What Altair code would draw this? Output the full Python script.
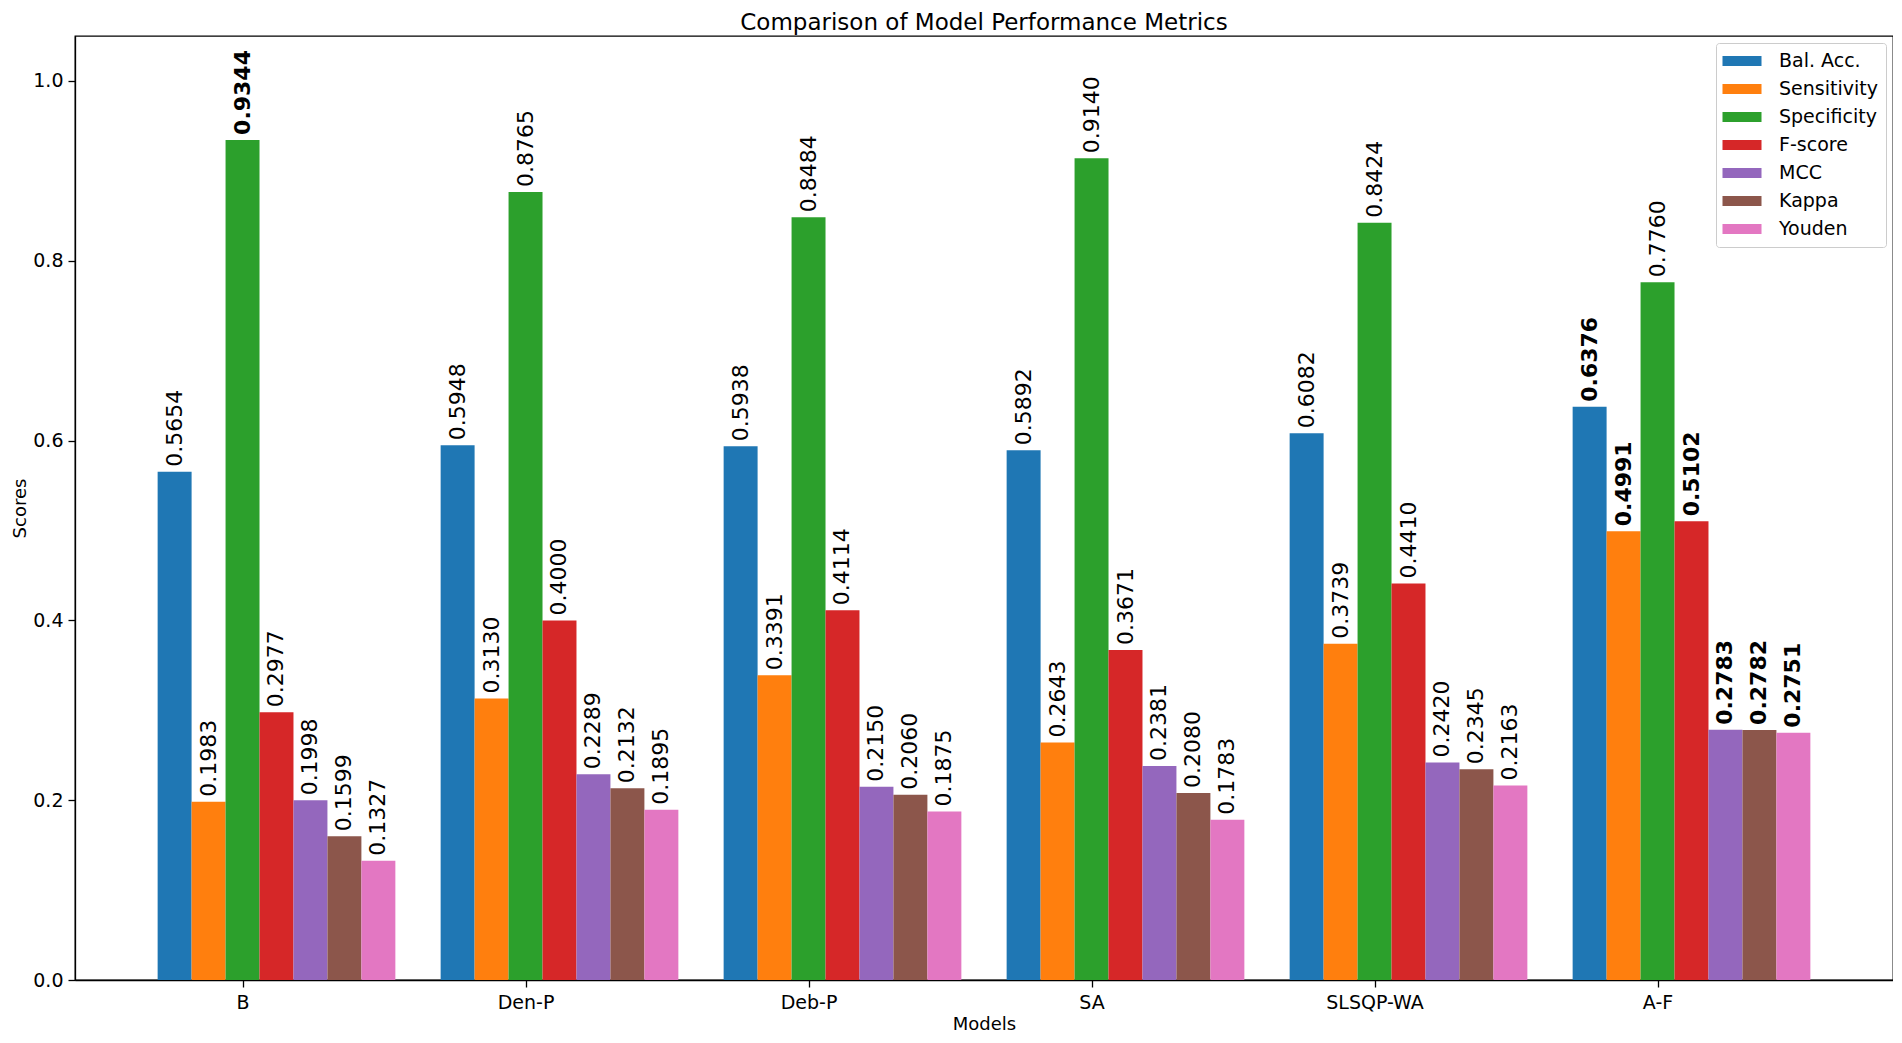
import json
import altair as alt
import pandas as pd

models = ["B", "Den-P", "Deb-P", "SA", "SLSQP-WA", "A-F"]
metrics = ["Bal. Acc.", "Sensitivity", "Specificity", "F-score", "MCC", "Kappa", "Youden"]
colors = ["#1f77b4", "#ff7f0e", "#2ca02c", "#d62728", "#9467bd", "#8c564b", "#e377c2"]

bal_acc = [0.5654, 0.5948, 0.5938, 0.5892, 0.6082, 0.6376]
sensitivity = [0.1983, 0.3130, 0.3391, 0.2643, 0.3739, 0.4991]
specificity = [0.9344, 0.8765, 0.8484, 0.9140, 0.8424, 0.7760]
f_score = [0.2977, 0.4000, 0.4114, 0.3671, 0.4410, 0.5102]
mcc = [0.1998, 0.2289, 0.2150, 0.2381, 0.2420, 0.2783]
kappa = [0.1599, 0.2132, 0.2060, 0.2080, 0.2345, 0.2782]
youden = [0.1327, 0.1895, 0.1875, 0.1783, 0.2163, 0.2751]

series = [bal_acc, sensitivity, specificity, f_score, mcc, kappa, youden]

BAR_W = 0.12
rows = []
for j, (metric, vals) in enumerate(zip(metrics, series)):
    vmax = max(vals)
    for i, (model, v) in enumerate(zip(models, vals)):
        c = i + (j - 2) * BAR_W
        rows.append(dict(model=model, metric=metric, value=v,
                         x0=c - BAR_W / 2, x1=c + BAR_W / 2, xc=c,
                         label=f"{v:.4f}", best=bool(v == vmax)))
df = pd.DataFrame(rows)

FONT = "DejaVu Sans"
x_scale = alt.Scale(domain=[-0.592, 5.832], nice=False, zero=False)
y_scale = alt.Scale(domain=[0, 1.05], nice=False, zero=True)
color_scale = alt.Scale(domain=metrics, range=colors)

label_expr = json.dumps(models) + "[datum.value]"

x_axis = alt.Axis(values=list(range(len(models))), labelExpr=label_expr, title="Models",
                  grid=False, tickSize=7, tickWidth=1.3, tickColor="black",
                  labelFontSize=19, labelColor="black", labelPadding=6, labelAngle=0,
                  labelFont=FONT, titleFont=FONT, titleFontSize=18, titleFontWeight="normal",
                  titleColor="black", titlePadding=3, domainColor="black", domainWidth=1.3)
y_axis = alt.Axis(values=[0, 0.2, 0.4, 0.6, 0.8, 1.0], format=".1f", title="Scores",
                  grid=False, tickSize=7, tickWidth=1.3, tickColor="black",
                  labelFontSize=19, labelColor="black", labelPadding=5,
                  labelFont=FONT, titleFont=FONT, titleFontSize=18, titleFontWeight="normal",
                  titleColor="black", titlePadding=3, domainColor="black", domainWidth=1.3)

base = alt.Chart(df)

bars = base.mark_bar(opacity=1).encode(
    x=alt.X("x0:Q", scale=x_scale, axis=x_axis),
    x2="x1:Q",
    y=alt.Y("value:Q", scale=y_scale, axis=y_axis),
    y2=alt.datum(0),
    color=alt.Color("metric:N", scale=color_scale,
                    legend=alt.Legend(title=None, orient="none", legendX=1641, legendY=7,
                                      symbolType="M-1.95,-0.5H1.95V0.5H-1.95Z", symbolSize=400,
                                      symbolStrokeWidth=0, labelFontSize=19, labelFont=FONT,
                                      labelColor="black", labelOffset=27, symbolOffset=8,
                                      padding=8, rowPadding=8, strokeColor="#cccccc",
                                      fillColor="white", cornerRadius=3)),
)

text_common = dict(angle=270, align="left", baseline="middle", dx=5, fontSize=22,
                   font=FONT, color="black")

labels_normal = base.transform_filter("!datum.best").mark_text(**text_common).encode(
    x=alt.X("xc:Q", scale=x_scale, axis=x_axis),
    y=alt.Y("value:Q", scale=y_scale, axis=y_axis),
    text="label:N",
)
labels_bold = base.transform_filter("datum.best").mark_text(fontWeight="bold", **text_common).encode(
    x=alt.X("xc:Q", scale=x_scale, axis=x_axis),
    y=alt.Y("value:Q", scale=y_scale, axis=y_axis),
    text="label:N",
)

chart = alt.layer(bars, labels_normal, labels_bold).properties(
    width=1818,
    height=944,
    padding={"left": 67, "top": 28, "right": 0, "bottom": 54},
    autosize=alt.AutoSizeParams(type="none"),
    title=alt.TitleParams("Comparison of Model Performance Metrics", fontSize=23,
                          fontWeight="normal", font=FONT, color="black", offset=1,
                          anchor="middle"),
).configure(font=FONT).configure_view(stroke="black", strokeWidth=1.3)

chart.save("out.html", embed_options={"renderer": "svg", "actions": False})
